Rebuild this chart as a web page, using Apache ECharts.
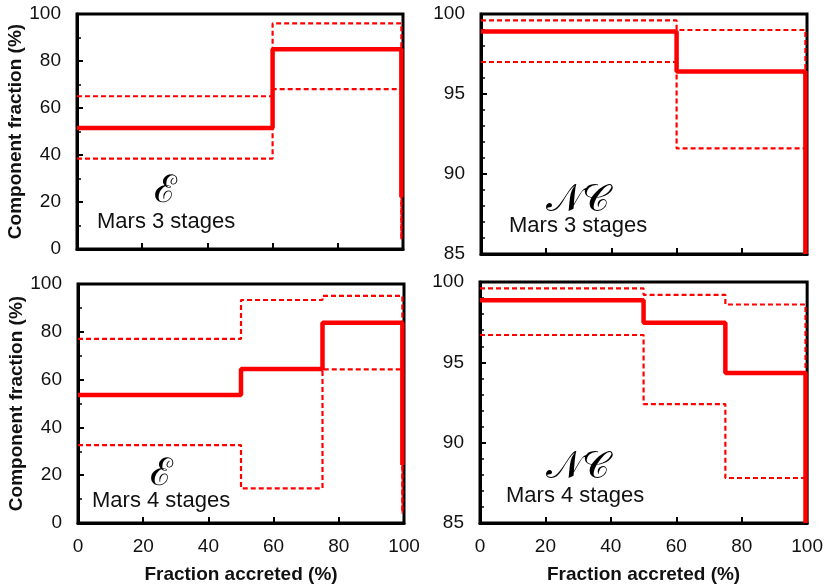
<!DOCTYPE html>
<html>
<head>
<meta charset="utf-8">
<script src="https://cdn.jsdelivr.net/npm/echarts@6/dist/echarts.min.js"></script>
<style>
  html, body { margin: 0; padding: 0; background: #fff; }
  #chart { width: 826px; height: 587px; }
</style>
</head>
<body>
<div id="chart"></div>
<script>
// stage edges (fraction accreted, %) and component fractions (%)
const tlEdges = [0, 60, 99.5]
const tlMid = [51.5, 85]
const tlUpper = [65, 96]
const tlLower = [38.5, 68]
const tlMidEnd = 22
const tlBandEnd = 4

const trEdges = [0, 60, 99.5]
const trMid = [98.9, 96.4]
const trUpper = [99.6, 99.0]
const trLower = [97.0, 91.6]
const trMidEnd = 85
const trBandEnd = 85

const blEdges = [0, 50, 75, 99.5]
const blMid = [53.6, 64.4, 83.8]
const blUpper = [77, 93.3, 95]
const blLower = [32.6, 14.5, 64.3]
const blMidEnd = 24.3
const blBandEnd = 4

const brEdges = [0, 50, 75, 99.5]
const brMid = [98.86, 97.47, 94.34]
const brUpper = [99.6, 99.2, 98.6]
const brLower = [96.7, 92.4, 87.8]
const brMidEnd = 85
const brBandEnd = 85

const xTicks = [0, 20, 40, 60, 80, 100]

// turn edges + values into a step polyline that drops at the end
function stepPath(edges, vals, drop) {
  const pts = []
  vals.forEach((v, i) => {
    pts.push([edges[i], v])
    pts.push([edges[i + 1], v])
  })
  pts.push([edges[edges.length - 1], drop])
  return pts
}

const RED = '#ff0000'
const TXT = '#111'
const FONT = 'Liberation Sans, Arial, sans-serif'

const grids = [
  { left: 77, top: 14, width: 326, height: 235 },
  { left: 481, top: 14, width: 326, height: 240 },
  { left: 78, top: 284, width: 326, height: 239 },
  { left: 480, top: 282, width: 328, height: 241 },
]

const xAxis = grids.map((g, i) => ({
  type: 'value',
  gridIndex: i,
  min: 0,
  max: 100,
  interval: 20,
  axisLine: { show: true, lineStyle: { color: '#000', width: 3 } },
  axisTick: { show: true, inside: true, length: 6, lineStyle: { color: '#000', width: 2 } },
  axisLabel: {
    show: i >= 2,
    color: TXT,
    fontSize: 19,
    fontFamily: FONT,
    margin: 14,
    formatter: (v) => (xTicks.includes(v) ? String(v) : ''),
  },
  splitLine: { show: false },
  name: i >= 2 ? 'Fraction accreted (%)' : '',
  nameLocation: 'middle',
  nameGap: 42,
  nameTextStyle: { color: TXT, fontSize: 19, fontWeight: 'bold', fontFamily: FONT },
}))

const yAxis = grids.map((g, i) => {
  const frac = i % 2 === 0
  return {
    type: 'value',
    gridIndex: i,
    min: frac ? 0 : 85,
    max: 100,
    interval: frac ? 20 : 5,
    axisLine: { show: true, lineStyle: { color: '#000', width: 3 } },
    axisTick: { show: true, inside: true, length: 6, lineStyle: { color: '#000', width: 2 } },
    minorTick: { show: true, splitNumber: frac ? 2 : 5, length: 4, lineStyle: { color: '#000', width: 1.5 } },
    axisLabel: { color: TXT, fontSize: 19, fontFamily: FONT, margin: 16 },
    splitLine: { show: false },
    name: frac ? 'Component fraction (%)' : '',
    nameLocation: 'middle',
    nameGap: 52,
    nameTextStyle: { color: TXT, fontSize: 19, fontWeight: 'bold', fontFamily: FONT },
  }
})

const panels = [
  [tlEdges, tlMid, tlUpper, tlLower, tlMidEnd, tlBandEnd],
  [trEdges, trMid, trUpper, trLower, trMidEnd, trBandEnd],
  [blEdges, blMid, blUpper, blLower, blMidEnd, blBandEnd],
  [brEdges, brMid, brUpper, brLower, brMidEnd, brBandEnd],
]

const series = []
panels.forEach(([edges, mid, upper, lower, midEnd, bandEnd], i) => {
  const dashed = { color: RED, width: 2.2, type: [5, 3] }
  series.push({
    type: 'line', xAxisIndex: i, yAxisIndex: i, showSymbol: false,
    lineStyle: dashed, data: stepPath(edges, upper, bandEnd),
  })
  series.push({
    type: 'line', xAxisIndex: i, yAxisIndex: i, showSymbol: false,
    lineStyle: dashed, data: stepPath(edges, lower, bandEnd),
  })
  series.push({
    type: 'line', xAxisIndex: i, yAxisIndex: i, showSymbol: false,
    lineStyle: { color: RED, width: 4.5 }, data: stepPath(edges, mid, midEnd),
  })
})

const labelText = (x, y, text, size, extra) => ({
  type: 'text',
  left: x,
  top: y,
  z: 10,
  style: Object.assign({ text: text, fill: TXT, font: size + 'px ' + FONT }, extra || {}),
})

const scriptStyle = { font: '38px "DejaVu Serif", serif', fill: '#000' }

const myChart = echarts.init(document.getElementById('chart'), null, { renderer: 'canvas' })
const option = {
  animation: false,
  backgroundColor: '#fff',
  grid: grids.map((g) => Object.assign({ show: true, borderColor: '#000', borderWidth: 3, containLabel: false }, g)),
  xAxis: xAxis,
  yAxis: yAxis,
  series: series,
  graphic: [
    labelText(154, 173, '\u2130', 38, scriptStyle),
    labelText(97, 211, 'Mars 3 stages', 22),
    labelText(546, 182, '\uD835\uDCA9\uD835\uDC9E', 38, scriptStyle),
    labelText(509, 215, 'Mars 3 stages', 22),
    labelText(150, 456, '\u2130', 38, scriptStyle),
    labelText(92, 490, 'Mars 4 stages', 22),
    labelText(546, 449, '\uD835\uDCA9\uD835\uDC9E', 38, scriptStyle),
    labelText(506, 485, 'Mars 4 stages', 22),
  ],
}
option && myChart.setOption(option)
</script>
</body>
</html>
